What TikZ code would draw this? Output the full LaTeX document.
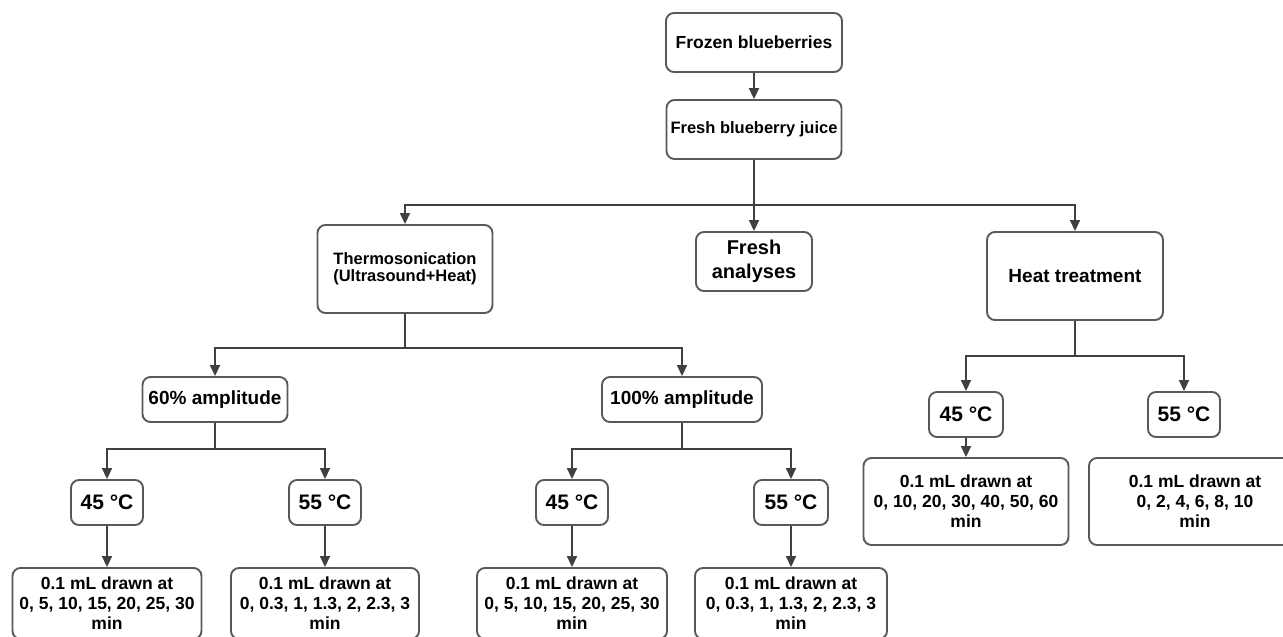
\documentclass[tikz,border=0pt]{standalone}
\usepackage{fontspec}
\setmainfont{Liberation Sans}
\usetikzlibrary{arrows.meta}

\begin{document}
\begin{tikzpicture}[x=1pt, y=-1pt,
  box/.style={draw=black!65, line width=1.9pt, rounded corners=8pt,
    inner sep=0pt, align=center},
  temp/.style={box, minimum width=72pt, minimum height=45pt,
    font=\bfseries\fontsize{21}{24}\selectfont},
  amp/.style={box, minimum height=45pt,
    font=\bfseries\fontsize{19}{22}\selectfont},
  mins/.style={box, font=\bfseries\fontsize{17.5}{20}\selectfont},
  link/.style={draw=black!75, line width=1.8pt},
  arr/.style={link, -{Triangle[length=11pt,width=10pt]}}]
  \useasboundingbox (0,0) rectangle (1283,637);
  \clip (0,0) rectangle (1283,637);

  % top of the tree
  \node[box, minimum width=176pt, minimum height=59pt,
    font=\bfseries\fontsize{17.5}{21}\selectfont] (frozen) at (754,42.5) {Frozen blueberries};
  \node[box, minimum width=175pt, minimum height=59pt,
    font=\bfseries\fontsize{16.5}{20}\selectfont] (juice) at (754,129.5) {Fresh blueberry juice};

  \node[box, minimum width=175pt, minimum height=88pt,
    font=\bfseries\fontsize{16.5}{17}\selectfont] (thermo) at (405,269) {Thermosonication\\(Ultrasound+Heat)};
  \node[box, minimum width=116pt, minimum height=59pt,
    font=\bfseries\fontsize{20}{24}\selectfont] (fresh) at (754,261.5) {Fresh\\analyses};
  \node[box, minimum width=176pt, minimum height=88pt,
    font=\bfseries\fontsize{19}{22}\selectfont] (heat) at (1075,276) {Heat treatment};

  % thermosonication branch
  \node[amp, minimum width=145pt] (amp60) at (215,399.5) {60\% amplitude};
  \node[amp, minimum width=160pt] (amp100) at (682,399.5) {100\% amplitude};

  \node[temp] (t45a) at (107,502.5) {45 °C};
  \node[temp] (t55a) at (325,502.5) {55 °C};
  \node[temp] (t45b) at (572,502.5) {45 °C};
  \node[temp, minimum width=74pt] (t55b) at (791,502.5) {55 °C};

  \node[mins, minimum width=189pt, minimum height=71pt] (mina) at (107,603.5)
    {0.1 mL drawn at\\0, 5, 10, 15, 20, 25, 30\\min};
  \node[mins, minimum width=188pt, minimum height=71pt] (minb) at (325,603.5)
    {0.1 mL drawn at\\0, 0.3, 1, 1.3, 2, 2.3, 3\\min};
  \node[mins, minimum width=190pt, minimum height=71pt] (minc) at (572,603.5)
    {0.1 mL drawn at\\0, 5, 10, 15, 20, 25, 30\\min};
  \node[mins, minimum width=192pt, minimum height=71pt] (mind) at (791,603.5)
    {0.1 mL drawn at\\0, 0.3, 1, 1.3, 2, 2.3, 3\\min};

  % heat branch
  \node[temp, minimum width=74pt] (t45c) at (966,414.5) {45 °C};
  \node[temp] (t55c) at (1184,414.5) {55 °C};

  \node[mins, minimum width=205pt, minimum height=87pt] (mine) at (966,501.5)
    {0.1 mL drawn at\\0, 10, 20, 30, 40, 50, 60\\min};
  \node[mins, minimum width=212pt, minimum height=87pt] (minf) at (1195,501.5)
    {0.1 mL drawn at\\0, 2, 4, 6, 8, 10\\min};

  % splitting points
  \coordinate (split) at (754,205);
  \coordinate (tsplit) at (405,348);
  \coordinate (hsplit) at (1075,356);
  \coordinate (asplit) at (215,449);
  \coordinate (bsplit) at (682,449);

  % connectors
  \draw[arr] (frozen) -- (juice);
  \draw[link] (juice) -- (split);
  \draw[arr] (split) -| (thermo);
  \draw[arr] (split) -- (fresh);
  \draw[arr] (split) -| (heat);

  \draw[link] (thermo) -- (tsplit);
  \draw[arr] (tsplit) -| (amp60);
  \draw[arr] (tsplit) -| (amp100);

  \draw[link] (amp60) -- (asplit);
  \draw[arr] (asplit) -| (t45a);
  \draw[arr] (asplit) -| (t55a);
  \draw[link] (amp100) -- (bsplit);
  \draw[arr] (bsplit) -| (t45b);
  \draw[arr] (bsplit) -| (t55b);

  \draw[arr] (t45a) -- (mina);
  \draw[arr] (t55a) -- (minb);
  \draw[arr] (t45b) -- (minc);
  \draw[arr] (t55b) -- (mind);

  \draw[link] (heat) -- (hsplit);
  \draw[arr] (hsplit) -| (t45c);
  \draw[arr] (hsplit) -| (t55c);
  \draw[arr] (t45c) -- (mine);
\end{tikzpicture}
\end{document}
